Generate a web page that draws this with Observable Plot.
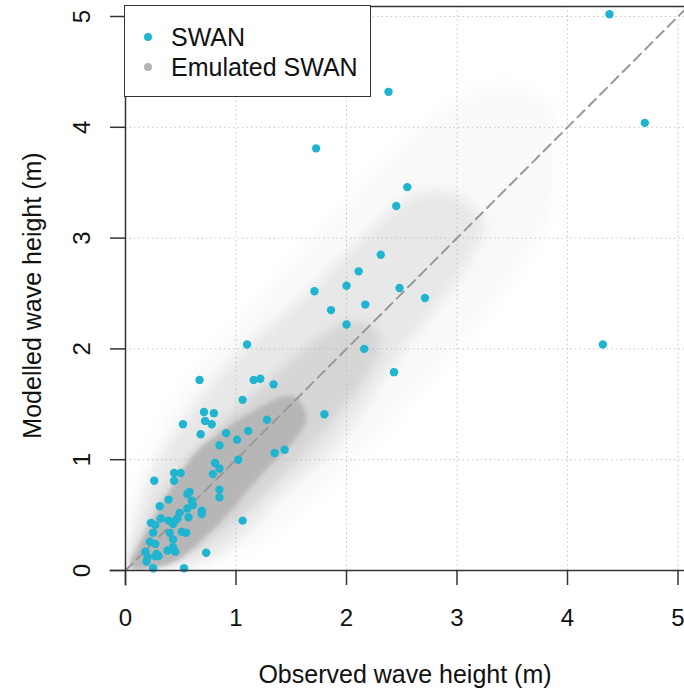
<!DOCTYPE html>
<html>
<head>
<meta charset="utf-8">
<script src="https://cdn.jsdelivr.net/npm/d3@7"></script>
<script src="https://cdn.jsdelivr.net/npm/@observablehq/plot@0.6"></script>
<style>
  html, body { margin: 0; padding: 0; background: #fff; }
  #wrap { position: relative; width: 684px; height: 692px; font-family: "Liberation Sans", Arial, sans-serif; }
  #legend { position: absolute; left: 124px; top: 5px; width: 247px; height: 92px; border: 1.5px solid #333; background: #fff; box-sizing: border-box; }
  .li { position: absolute; left: 0; height: 30px; line-height: 30px; font-size: 25px; color: #111; }
  .li span.dot { position: absolute; left: 19px; top: 11px; width: 8px; height: 8px; border-radius: 50%; }
  .li span.t { position: absolute; left: 46px; top: 0; white-space: nowrap; }
</style>
</head>
<body>
<div id="wrap"></div>
<script>
// SWAN model vs observations (m)
const swanObs = [4.70,1.725,2.55,2.45,2.31,2.11,2.00,1.71,2.48,2.71,2.17,1.86,2.00,2.16,4.32,2.43,1.10,0.67,1.16,1.22,1.34,1.06,1.80,0.71,0.80,0.72,0.78,0.52,1.28,0.68,0.91,1.11,1.01,0.85,1.35,1.44,1.02,0.81,0.85,0.79,0.44,0.50,0.44,0.26,0.85,0.85,0.58,0.56,0.39,0.60,0.31,0.61,0.56,0.49,0.69,0.69,0.57,0.32,0.39,0.45,0.47,1.06,0.23,0.27,0.43,0.25,0.40,0.51,0.55,0.43,0.22,0.27,0.43,0.38,0.28,0.45,0.18,0.19,0.25,0.53,0.27,0.73,4.38,2.38,0.20,0.30];
const swanMod = [4.04,3.81,3.46,3.29,2.85,2.70,2.57,2.52,2.55,2.46,2.40,2.35,2.22,2.00,2.04,1.79,2.04,1.72,1.72,1.73,1.68,1.54,1.41,1.43,1.42,1.35,1.32,1.32,1.36,1.23,1.24,1.26,1.18,1.13,1.06,1.09,1.00,0.97,0.92,0.87,0.88,0.88,0.81,0.81,0.73,0.66,0.71,0.69,0.64,0.63,0.58,0.59,0.56,0.52,0.54,0.51,0.48,0.47,0.45,0.45,0.47,0.45,0.43,0.41,0.42,0.34,0.34,0.35,0.34,0.28,0.26,0.24,0.21,0.18,0.15,0.17,0.17,0.08,0.02,0.02,0.13,0.16,5.02,4.32,0.12,0.13];

// Emulated SWAN point cloud, read as density bands (observed x, modelled lower / upper edge)
const haloX  = [0.00,0.30,0.60,1.00,1.50,2.00,2.50,3.00,3.50,3.90];
const haloLo = [0.00,0.00,0.00,0.10,0.45,0.95,1.45,2.00,2.60,3.30];
const haloHi = [0.40,1.30,1.75,2.20,2.75,3.30,3.85,4.25,4.45,4.15];
const midX   = [0.03,0.20,0.45,0.75,1.05,1.35,1.65,1.95,2.25,2.55,2.85,3.10,3.25];
const midLo  = [0.00,0.00,0.02,0.08,0.28,0.63,0.90,1.13,1.62,2.05,2.40,2.75,3.05];
const midHi  = [0.12,0.85,1.24,1.65,1.99,2.23,2.50,2.80,3.10,3.38,3.45,3.35,3.15];
const innerX  = [0.05,0.30,0.60,0.90,1.20,1.50,1.80,2.10,2.30];
const innerLo = [0.00,0.02,0.13,0.35,0.62,0.92,1.25,1.60,1.95];
const innerHi = [0.12,0.65,1.07,1.37,1.62,1.90,2.15,2.30,2.15];
const coreX  = [0.05,0.11,0.29,0.45,0.59,0.75,0.90,1.05,1.14,1.29,1.44,1.56,1.64];
const coreLo = [0.02,0.00,0.02,0.07,0.17,0.32,0.46,0.65,0.75,0.92,1.07,1.19,1.33];
const coreHi = [0.09,0.19,0.52,0.79,1.02,1.16,1.27,1.37,1.42,1.51,1.58,1.58,1.42];

const ticks = [0,1,2,3,4,5];
const gridVals = [1,2,3,4,5];
const diag = [0, 5.1];

const swan = swanObs.map((x,i)=>({x, y: swanMod[i]}));
const band = (X,L,H)=>X.map((x,i)=>({x, lo:L[i], hi:H[i]}));
const layers = [
  {data: band(haloX,haloLo,haloHi), op: 0.08, blur: 8},
  {data: band(midX,midLo,midHi), op: 0.24, blur: 6},
  {data: band(innerX,innerLo,innerHi), op: 0.33, blur: 4},
  {data: band(coreX,coreLo,coreHi), op: 0.9, blur: 2}
];

const xMax = (684-125)/110.5;
const yMax = (570-6)/110.8;
const font = "Liberation Sans, Arial, sans-serif";

const chart = Plot.plot({
  width: 684, height: 692,
  marginLeft: 125, marginRight: 0, marginTop: 6, marginBottom: 122,
  style: {fontFamily: font, color: "#111", background: "#fff"},
  x: {domain: [0, xMax]},
  y: {domain: [0, yMax]},
  marks: [
    Plot.gridX(gridVals, {stroke: "#c8c8c8", strokeOpacity: 1, strokeDasharray: "1.5,3"}),
    Plot.gridY(gridVals, {stroke: "#c8c8c8", strokeOpacity: 1, strokeDasharray: "1.5,3"}),
    ...layers.map(L => Plot.areaY(L.data, {x: "x", y1: "lo", y2: "hi", fill: "#b3b3b3", fillOpacity: L.op, curve: "basis", clip: true})),
    Plot.line(diag, {x: d=>d, y: d=>d, stroke: "#999", strokeWidth: 2, strokeDasharray: "10,6", clip: true}),
    Plot.dot(swan, {x: "x", y: "y", r: 4.2, fill: "#1fb5d1", stroke: "none"}),
    Plot.ruleY([0], {x1: -0.14, x2: xMax, stroke: "#333", strokeWidth: 1.5}),
    Plot.ruleX([0], {y1: -0.14, y2: yMax, stroke: "#333", strokeWidth: 1.5}),
    Plot.ruleY([yMax], {x1: 0, x2: xMax, stroke: "#333", strokeWidth: 1.5}),
    Plot.axisX(ticks, {tickSize: 15, tickPadding: 23, fontSize: 24, stroke: "#333", strokeWidth: 1.5, label: null, tickFormat: d=>String(d)}),
    Plot.axisY(ticks, {tickSize: 15, tickPadding: 0, text: null, stroke: "#333", strokeWidth: 1.5, label: null}),
    Plot.text(ticks, {y: d=>d, text: d=>String(d), frameAnchor: "left", dx: -43, rotate: -90, textAnchor: "middle", lineAnchor: "middle", fontSize: 24, fill: "#111"}),
    Plot.text(["Observed wave height (m)"], {frameAnchor: "bottom", dy: 112, fontSize: 25, fill: "#111"}),
    Plot.text(["Modelled wave height (m)"], {frameAnchor: "left", dx: -93, dy: 7, rotate: -90, textAnchor: "middle", lineAnchor: "middle", fontSize: 25, fill: "#111"})
  ]
});

chart.querySelectorAll('g[aria-label="area"]').forEach((g, i) => {
  const b = layers[i] ? layers[i].blur : 3;
  g.querySelectorAll("path").forEach(p => { p.style.filter = `blur(${b}px)`; });
});

const wrap = document.getElementById("wrap");
wrap.appendChild(chart);

const legendItems = [["SWAN", "#1fb5d1"], ["Emulated SWAN", "#b3b3b3"]];
const lg = document.createElement("div");
lg.id = "legend";
legendItems.forEach(([label, color], i) => {
  const d = document.createElement("div");
  d.className = "li";
  d.style.top = (16 + i*30) + "px";
  d.innerHTML = `<span class="dot" style="background:${color}"></span><span class="t">${label}</span>`;
  lg.appendChild(d);
});
wrap.appendChild(lg);
</script>
</body>
</html>
